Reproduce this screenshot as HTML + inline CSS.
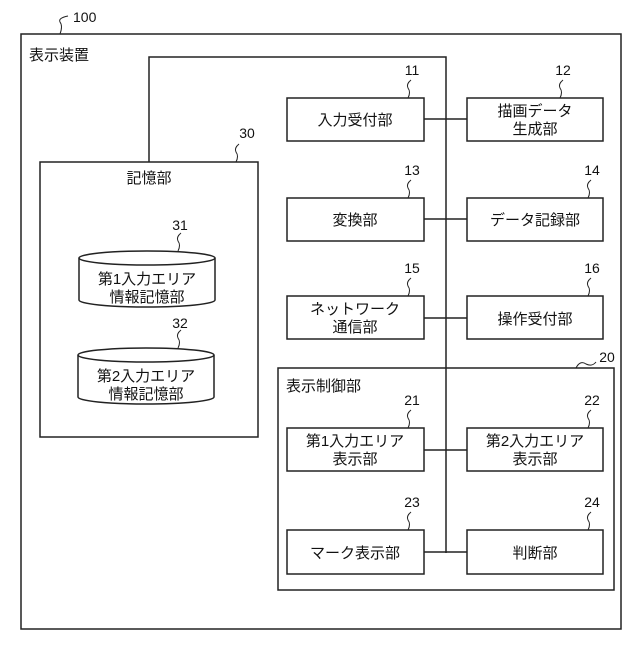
<!DOCTYPE html>
<html><head><meta charset="utf-8"><style>
html,body{margin:0;padding:0;background:#fff}
text{font-family:"Liberation Sans","Noto Sans CJK JP",sans-serif;font-size:15px;fill:#111}
.n{font-size:14px}
</style></head><body>
<svg width="640" height="640" viewBox="0 0 640 640" xmlns="http://www.w3.org/2000/svg">
<g fill="none" stroke="#222" stroke-width="1.5">
<rect x="21" y="34" width="600" height="595"/>
<polyline points="149,162 149,57 446,57 446,553"/>
<rect x="40" y="162" width="218" height="275"/>
<rect x="278" y="368" width="336" height="222"/>
<rect x="287" y="98" width="137" height="43"/><rect x="467" y="98" width="136" height="43"/>
<rect x="287" y="198" width="137" height="43"/><rect x="467" y="198" width="136" height="43"/>
<rect x="287" y="296" width="137" height="43"/><rect x="467" y="296" width="136" height="43"/>
<rect x="287" y="428" width="137" height="43"/><rect x="467" y="428" width="136" height="43"/>
<rect x="287" y="530" width="137" height="44"/><rect x="467" y="530" width="136" height="44"/>
<line x1="424" y1="119" x2="467" y2="119"/><line x1="424" y1="219" x2="467" y2="219"/>
<line x1="424" y1="318" x2="467" y2="318"/><line x1="424" y1="450" x2="467" y2="450"/>
<line x1="424" y1="552" x2="467" y2="552"/>
<path d="M79,258 L79,300 A68,7 0 0 0 215,300 L215,258"/><ellipse cx="147" cy="258" rx="68" ry="7"/>
<path d="M78,355 L78,397 A68,7 0 0 0 214,397 L214,355"/><ellipse cx="146" cy="355" rx="68" ry="7"/>
<g stroke-width="1">
<path d="M60,34 q3,-8 0,-12 q-2,-4 8,-6"/>
<path d="M236,162 q3,-6 0,-10 q-2,-4 3,-8"/>
<path d="M178,251 q3,-6 0,-10 q-2,-4 3,-8"/>
<path d="M178,348 q3,-6 0,-10 q-2,-4 3,-8"/>
<path d="M408,98 q3,-6 0,-10 q-2,-4 3,-8"/><path d="M560,98 q3,-6 0,-10 q-2,-4 3,-8"/>
<path d="M408,198 q3,-6 0,-10 q-2,-4 3,-8"/><path d="M588,198 q3,-6 0,-10 q-2,-4 3,-8"/>
<path d="M408,296 q3,-6 0,-10 q-2,-4 3,-8"/><path d="M588,296 q3,-6 0,-10 q-2,-4 3,-8"/>
<path d="M408,428 q3,-6 0,-10 q-2,-4 3,-8"/><path d="M588,428 q3,-6 0,-10 q-2,-4 3,-8"/>
<path d="M408,530 q3,-6 0,-10 q-2,-4 3,-8"/><path d="M588,530 q3,-6 0,-10 q-2,-4 3,-8"/>
<path d="M576,368 q4,-8 10,-4 q6,3 10,-2"/>
</g>
</g>
<text x="73" y="22" class="n">100</text>
<text x="29" y="60">表示装置</text>
<text x="149" y="183" text-anchor="middle">記憶部</text>
<text x="247" y="138" text-anchor="middle" class="n">30</text>
<text x="180" y="230" text-anchor="middle" class="n">31</text>
<text x="180" y="328" text-anchor="middle" class="n">32</text>
<text x="147" y="284" text-anchor="middle">第1入力エリア</text>
<text x="147" y="302" text-anchor="middle">情報記憶部</text>
<text x="146" y="381" text-anchor="middle">第2入力エリア</text>
<text x="146" y="399" text-anchor="middle">情報記憶部</text>
<text x="412" y="75" text-anchor="middle" class="n">11</text>
<text x="563" y="75" text-anchor="middle" class="n">12</text>
<text x="412" y="175" text-anchor="middle" class="n">13</text>
<text x="592" y="175" text-anchor="middle" class="n">14</text>
<text x="412" y="273" text-anchor="middle" class="n">15</text>
<text x="592" y="273" text-anchor="middle" class="n">16</text>
<text x="412" y="405" text-anchor="middle" class="n">21</text>
<text x="592" y="405" text-anchor="middle" class="n">22</text>
<text x="412" y="507" text-anchor="middle" class="n">23</text>
<text x="592" y="507" text-anchor="middle" class="n">24</text>
<text x="607" y="362" text-anchor="middle" class="n">20</text>
<text x="355" y="125" text-anchor="middle">入力受付部</text>
<text x="535" y="116" text-anchor="middle">描画データ</text>
<text x="535" y="134" text-anchor="middle">生成部</text>
<text x="355" y="225" text-anchor="middle">変換部</text>
<text x="535" y="225" text-anchor="middle">データ記録部</text>
<text x="355" y="314" text-anchor="middle">ネットワーク</text>
<text x="355" y="332" text-anchor="middle">通信部</text>
<text x="535" y="324" text-anchor="middle">操作受付部</text>
<text x="286" y="391">表示制御部</text>
<text x="355" y="446" text-anchor="middle">第1入力エリア</text>
<text x="355" y="464" text-anchor="middle">表示部</text>
<text x="535" y="446" text-anchor="middle">第2入力エリア</text>
<text x="535" y="464" text-anchor="middle">表示部</text>
<text x="355" y="558" text-anchor="middle">マーク表示部</text>
<text x="535" y="558" text-anchor="middle">判断部</text>
</svg>
</body></html>
